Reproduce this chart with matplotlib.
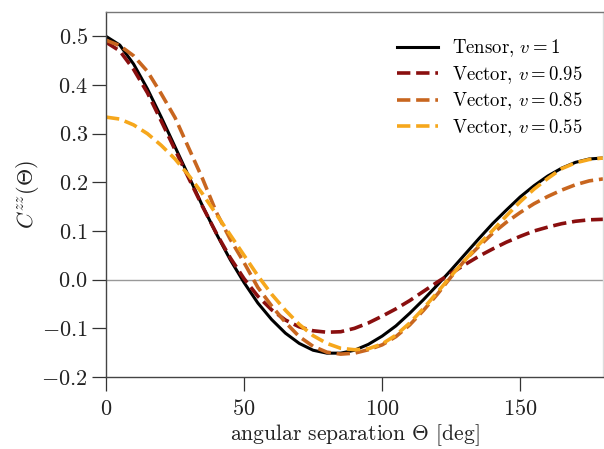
import matplotlib
matplotlib.use("Agg")
import matplotlib.pyplot as plt

plt.rcParams['font.family'] = 'serif'
plt.rcParams['font.serif'] = ['cmr10']
plt.rcParams['mathtext.fontset'] = 'cm'
plt.rcParams['axes.formatter.use_mathtext'] = True

# angular separation in degrees
theta = list(range(0, 181, 5))

# values
tensor = [0.500, 0.482, 0.443, 0.392, 0.334, 0.273, 0.212, 0.151, 0.094, 0.041,
          -0.006, -0.048, -0.082, -0.110, -0.131, -0.145, -0.151, -0.151, -0.145, -0.133,
          -0.116, -0.095, -0.069, -0.041, -0.011, 0.020, 0.052, 0.084, 0.115, 0.143,
          0.170, 0.193, 0.213, 0.229, 0.241, 0.248, 0.250]
vec_095 = [0.488, 0.470, 0.432, 0.384, 0.326, 0.267, 0.208, 0.150, 0.095, 0.045,
           0.002, -0.034, -0.062, -0.083, -0.097, -0.105, -0.108, -0.107, -0.100, -0.089,
           -0.075, -0.060, -0.043, -0.024, -0.005, 0.013, 0.031, 0.048, 0.063, 0.077,
           0.089, 0.100, 0.108, 0.115, 0.120, 0.123, 0.124]
vec_085 = [0.492, 0.481, 0.460, 0.428, 0.382, 0.333, 0.270, 0.207, 0.138, 0.083,
           0.035, -0.016, -0.054, -0.088, -0.117, -0.137, -0.149, -0.153, -0.151, -0.144,
           -0.134, -0.117, -0.093, -0.063, -0.030, 0.006, 0.040, 0.068, 0.095, 0.118,
           0.138, 0.156, 0.171, 0.184, 0.195, 0.203, 0.207]
vec_055 = [0.334, 0.330, 0.318, 0.300, 0.276, 0.248, 0.214, 0.176, 0.134, 0.092,
           0.050, 0.008, -0.030, -0.063, -0.092, -0.115, -0.131, -0.141, -0.144, -0.142,
           -0.132, -0.114, -0.089, -0.059, -0.026, 0.008, 0.040, 0.072, 0.101, 0.131,
           0.160, 0.186, 0.208, 0.228, 0.240, 0.247, 0.250]

labels = [r'Tensor, $v=1$', r'Vector, $v=0.95$', r'Vector, $v=0.85$', r'Vector, $v=0.55$']
colors = ['black', '#8a0f0f', '#c8661f', '#f6a71c']

fig = plt.figure(figsize=(6.04, 4.49), dpi=100)
ax = fig.add_axes([106/604, 1 - 377/449, 497/604, 365/449])

ax.axhline(0, color='#999999', lw=1.0, zorder=1)
ax.plot(theta, tensor, color=colors[0], lw=2.2, label=labels[0])
for vals, c, lab in zip([vec_095, vec_085, vec_055], colors[1:], labels[1:]):
    ax.plot(theta, vals, color=c, lw=2.6, ls='--', label=lab)

ax.set_xlim(0, 180)
ax.set_ylim(-0.2, 0.55)
ax.set_xticks([0, 50, 100, 150])
ax.set_yticks([-0.2, -0.1, 0.0, 0.1, 0.2, 0.3, 0.4, 0.5])
ax.tick_params(direction='out', length=10, width=0.9, labelsize=16, color='#333333',
               labelcolor='#222222')
ax.tick_params(axis='x', pad=6)
ax.tick_params(axis='y', pad=3)
for s in ax.spines.values():
    s.set_color('#444444')
    s.set_linewidth(1.0)
ax.spines['top'].set_color('#777777')
ax.spines['right'].set_color('#dddddd')

ax.set_xlabel(r'angular separation $\Theta$ [deg]', fontsize=15.5, labelpad=2, color='#222222')
ax.set_ylabel(r'$C^{zz}(\Theta)$', fontsize=16, labelpad=0, color='#222222')

ax.legend(loc='upper left', frameon=False, fontsize=13.5, handlelength=2.2,
          handletextpad=0.75, labelspacing=0.25, borderpad=0, borderaxespad=0,
          bbox_to_anchor=(0.5855, 0.93))

fig.savefig('out.png', dpi=100)
